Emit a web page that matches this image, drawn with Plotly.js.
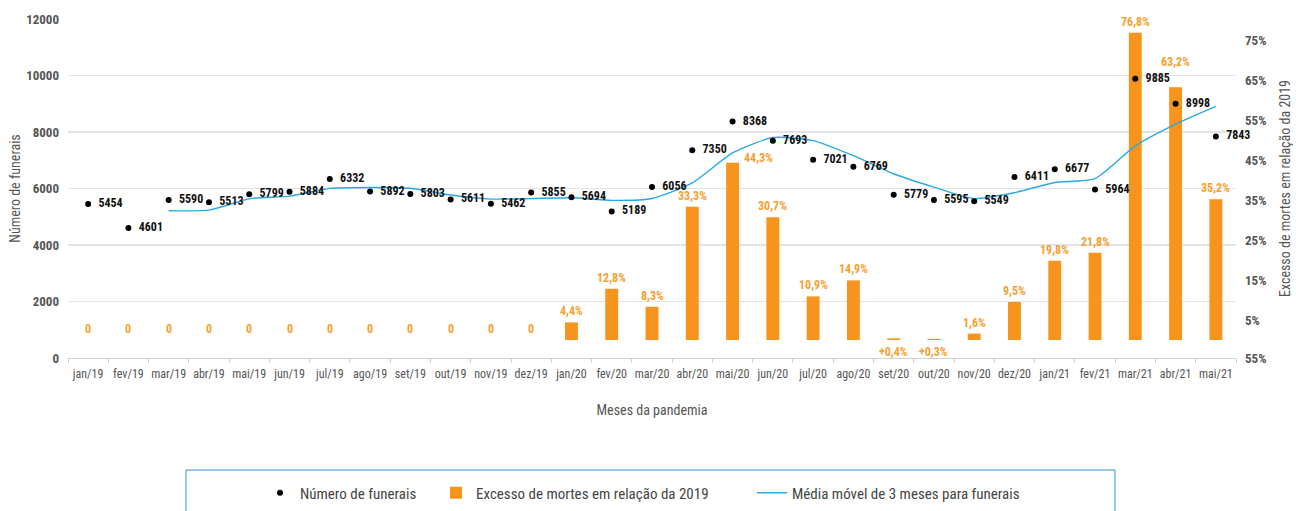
<!DOCTYPE html>
<html>
<head>
<meta charset="utf-8">
<script src="https://cdn.plot.ly/plotly-3.0.1.min.js"></script>
<style>
  html, body { margin: 0; padding: 0; background: #fff; }
  #chart { width: 1296px; height: 511px; }
  svg text { font-stretch: condensed; }
</style>
</head>
<body>
<div id="chart"></div>
<script>
// ---- Data ----
const months = ["jan/19","fev/19","mar/19","abr/19","mai/19","jun/19","jul/19","ago/19","set/19","out/19","nov/19","dez/19",
                "jan/20","fev/20","mar/20","abr/20","mai/20","jun/20","jul/20","ago/20","set/20","out/20","nov/20","dez/20",
                "jan/21","fev/21","mar/21","abr/21","mai/21"];
const funerals = [5454,4601,5590,5513,5799,5884,6332,5892,5803,5611,5462,5855,
                  5694,5189,6056,7350,8368,7693,7021,6769,5779,5595,5549,6411,
                  6677,5964,9885,8998,7843];
const excessPct = [0,0,0,0,0,0,0,0,0,0,0,0,
                   4.4,12.8,8.3,33.3,44.3,30.7,10.9,14.9,0.4,0.3,1.6,9.5,
                   19.8,21.8,76.8,63.2,35.2];
// 3-month moving average of funerals (starts at mar/19)
const maMonths = months.slice(2);
const movingAvg = [5215,5235,5634,5732,6005,6036,6009,5769,5625,5643,
                   5670,5579,5646,6198,7258,7804,7694,7161,6523,6048,5641,5852,
                   6212,6351,7509,8282,8909];
const leftTickVals = [0,2000,4000,6000,8000,10000,12000];
const rightTickVals = [-4.5,5,15,25,35,45,55,65,75];
const rightTickText = ["55%","5%","15%","25%","35%","45%","55%","65%","75%"];

// ---- Styles ----
const FONT = "'Roboto Condensed', 'Liberation Sans Narrow', 'DejaVu Sans Condensed', 'Open Sans', Roboto, 'DejaVu Sans', sans-serif";
const ORANGE = "#f7941d";
const ORANGE_TXT = "#f7a030";
const BLUE = "#29a9e1";
const GRAY = "#555555";
const W = 1296, H = 511;
// label placement tweaks (style only)
const labelShift = { "mai/20": { xshift: 26, yshift: -6 }, "abr/21": { yshift: 14 } };

function fmtPct(v) {
  if (v === 0) return "0";
  const s = v.toFixed(1).replace(".", ",") + "%";
  return v < 1 ? "+" + s : s;
}

const traces = [
  {
    type: "bar", name: "Excesso de mortes em relação da 2019",
    x: months, y: excessPct, yaxis: "y",
    marker: { color: ORANGE },
    width: 0.32, legend: "legend2"
  },
  {
    type: "scatter", mode: "lines", name: "Média móvel de 3 meses para funerais",
    x: maMonths, y: movingAvg, yaxis: "y2",
    line: { color: BLUE, width: 1.4, shape: "spline", smoothing: 0.6 },
    legend: "legend3"
  },
  {
    type: "scatter", mode: "markers+text", name: "Número de funerais",
    x: months, y: funerals, yaxis: "y2",
    marker: { color: "#000", size: 6 },
    text: funerals.map(v => "\u00a0\u00a0" + v),
    textposition: "middle right",
    textfont: { family: FONT, size: 12, color: "#111", weight: "bold" },
    cliponaxis: false, legend: "legend"
  }
];

const annotations = months.map((m, i) => {
  const v = excessPct[i];
  const below = v > 0 && v < 1;
  const s = labelShift[m] || {};
  return {
    x: m, y: below ? 0 : v, xref: "x", yref: "y",
    text: fmtPct(v), showarrow: false,
    yanchor: below ? "top" : "bottom",
    yshift: (below ? -3 : 2) + (s.yshift || 0),
    xshift: s.xshift || 0,
    font: { family: FONT, size: 12, color: ORANGE_TXT, weight: "bold" }
  };
});

function legendAt(px) {
  return {
    orientation: "h", xref: "container", yref: "container",
    x: px / W, xanchor: "left", y: (H - 493) / H, yanchor: "middle",
    font: { family: FONT, size: 15, color: "#444" },
    bgcolor: "rgba(0,0,0,0)", borderwidth: 0
  };
}

const layout = {
  width: W, height: H,
  margin: { l: 68, r: 60, t: 19, b: 153, autoexpand: false },
  paper_bgcolor: "#fff", plot_bgcolor: "#fff",
  font: { family: FONT, color: GRAY },
  showlegend: true,
  legend: legendAt(260),
  legend2: legendAt(436),
  legend3: legendAt(752),
  xaxis: {
    type: "category",
    showgrid: false, showline: true, linecolor: "#d0d0d0", linewidth: 1,
    ticks: "outside", tickson: "boundaries", ticklen: 4, tickcolor: "#d0d0d0",
    tickangle: 0, ticklabelstandoff: 5,
    tickfont: { family: FONT, size: 12, color: GRAY },
    title: { text: "Meses da pandemia", font: { family: FONT, size: 14, color: GRAY }, standoff: 24 },
    range: [-0.5, months.length - 0.5]
  },
  yaxis: {
    side: "right", range: [-4.5, 80.25],
    tickvals: rightTickVals, ticktext: rightTickText,
    showgrid: false, zeroline: false, showline: false,
    tickfont: { family: FONT, size: 13, color: GRAY, weight: "bold" },
    ticklabelstandoff: 8,
    title: { text: "Excesso de mortes em relação da 2019", font: { family: FONT, size: 14, color: GRAY }, standoff: 14 }
  },
  yaxis2: {
    overlaying: "y", side: "left", range: [0, 12000],
    tickvals: leftTickVals, ticktext: leftTickVals.map(String),
    showgrid: true, gridcolor: "#e3e3e3", gridwidth: 1.2, zeroline: false, showline: false,
    tickfont: { family: FONT, size: 13, color: GRAY, weight: "bold" },
    ticklabelstandoff: 8,
    title: { text: "Número de funerais", font: { family: FONT, size: 14, color: GRAY }, standoff: 2 }
  },
  annotations: annotations,
  shapes: [{
    type: "rect", xref: "paper", yref: "paper",
    x0: (186 - 68) / 1168, x1: (1115 - 68) / 1168,
    y0: (358 - 470) / 339, y1: (358 - 525) / 339,
    line: { color: "#3a8fd0", width: 1 }, fillcolor: "rgba(0,0,0,0)", layer: "below"
  }]
};

Plotly.newPlot("chart", traces, layout, { displayModeBar: false, staticPlot: true });
</script>
</body>
</html>
